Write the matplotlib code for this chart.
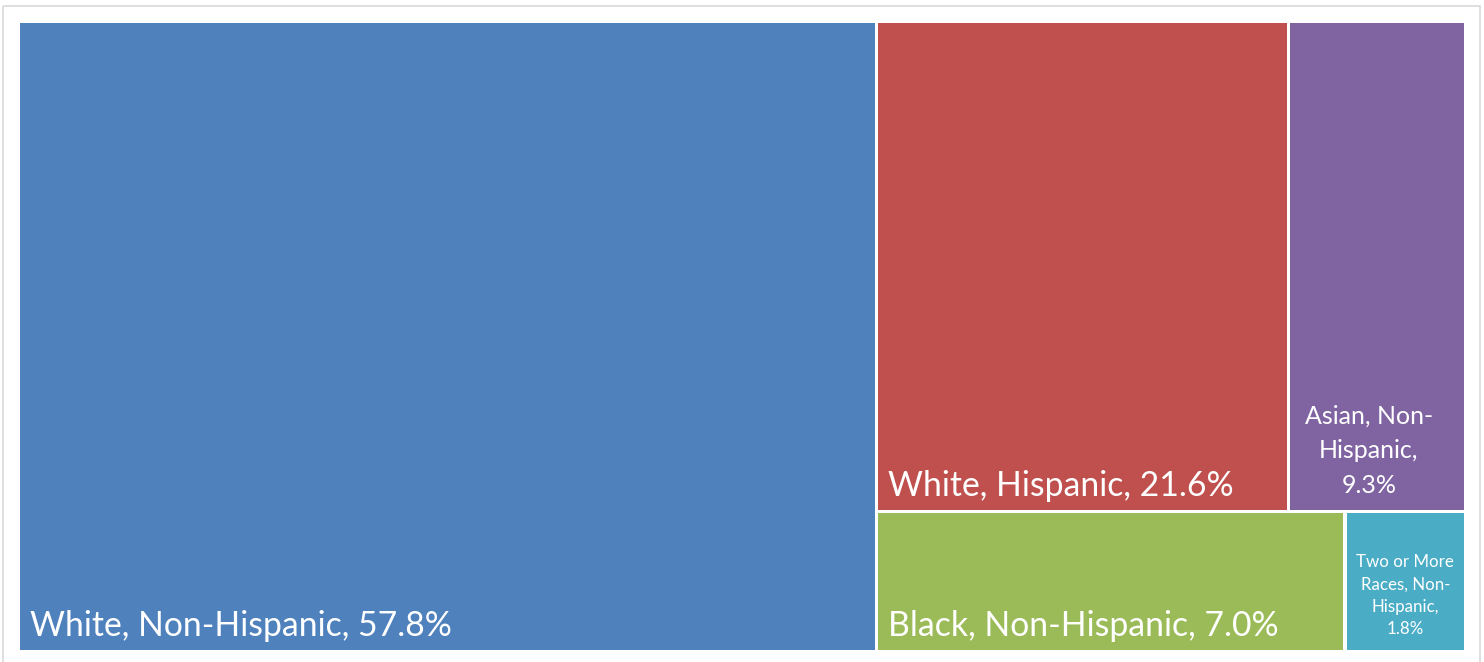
import matplotlib
matplotlib.use("Agg")
import matplotlib.pyplot as plt
from matplotlib.patches import Rectangle

# Data
labels = ["White, Non-Hispanic", "White, Hispanic", "Asian, Non-Hispanic",
          "Black, Non-Hispanic", "Two or More Races, Non-Hispanic"]
shares = [57.8, 21.6, 9.3, 7.0, 1.8]
colors = ["#4F81BD", "#C0504D", "#8064A2", "#9BBB59", "#4BACC6"]
# Excel-style layout: big column on the left, then two rows of two tiles
layout = [[0], [[1, 2], [3, 4]]]
label_text = [
    "White, Non-Hispanic, 57.8%",
    "White, Hispanic, 21.6%",
    "Asian, Non-\nHispanic,\n9.3%",
    "Black, Non-Hispanic, 7.0%",
    "Two or More\nRaces, Non-\nHispanic,\n1.8%",
]

W, H = 1484, 662
PLOT = (18.5, 21.5, 1465.5, 651.5)  # x0, y0, x1, y1 in pixels
GAP = 1.6


def total(node):
    if isinstance(node, int):
        return shares[node]
    return sum(total(n) for n in node)


def slice_node(node, box, vertical, out):
    if isinstance(node, int):
        out[node] = box
        return
    x0, y0, x1, y1 = box
    tot = total(node)
    pos = x0 if vertical else y0
    for child in node:
        frac = total(child) / tot
        if vertical:
            w = (x1 - x0) * frac
            slice_node(child, (pos, y0, pos + w, y1), not vertical, out)
        else:
            h = (y1 - y0) * frac
            slice_node(child, (x0, pos, x1, pos + h), not vertical, out)
        pos += (x1 - x0) * frac if vertical else (y1 - y0) * frac


boxes = {}
slice_node(layout, PLOT, True, boxes)

fig = plt.figure(figsize=(W / 100, H / 100), dpi=100)
ax = fig.add_axes([0, 0, 1, 1])
ax.set_xlim(0, W)
ax.set_ylim(H, 0)
ax.axis("off")

# chart frame
ax.add_patch(Rectangle((3, 6), 1477, 700, fill=False, edgecolor="#D9D9D9", lw=1.2))

font = "Lato"
for i, (x0, y0, x1, y1) in boxes.items():
    ax.add_patch(Rectangle((x0 + GAP, y0 + GAP), x1 - x0 - 2 * GAP, y1 - y0 - 2 * GAP,
                           facecolor=colors[i], edgecolor="none"))
    if i in (0, 1, 3):
        ax.text(x0 + 12, y1 - 16, label_text[i], color="white", fontsize=24.3,
                family=font, ha="left", va="baseline")
    elif i == 2:
        ax.text((x0 + x1) / 2 - 8, y1 - 15, label_text[i], color="white", fontsize=18,
                family=font, ha="center", va="bottom", linespacing=1.6)
    else:
        ax.text((x0 + x1) / 2, y1 - 14, label_text[i], color="white", fontsize=12.2,
                family=font, ha="center", va="bottom", linespacing=1.5)

fig.savefig("out.png", dpi=100)
